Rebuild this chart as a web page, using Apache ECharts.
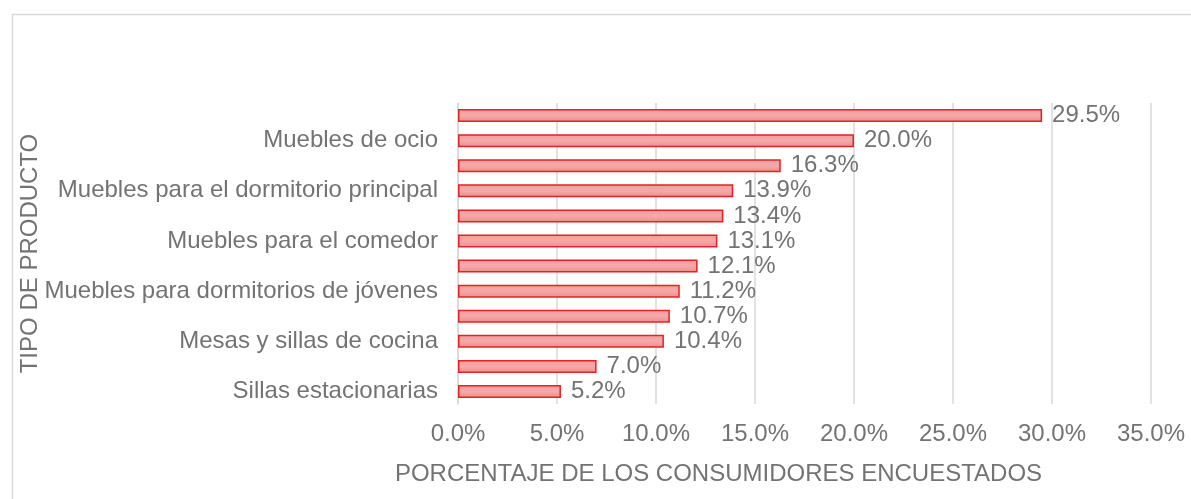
<!DOCTYPE html>
<html>
<head>
<meta charset="utf-8">
<script src="https://cdn.jsdelivr.net/npm/echarts@6/dist/echarts.min.js"></script>
<style>
html,body{margin:0;padding:0;background:#fff;}
#chart{width:1191px;height:499px;}
</style>
</head>
<body>
<div id="chart"></div>
<script>
// Categories listed bottom to top (labels hidden in the original appear as empty strings)
const categories = [
  "Sillas estacionarias", "",
  "Mesas y sillas de cocina", "",
  "Muebles para dormitorios de jóvenes", "",
  "Muebles para el comedor", "",
  "Muebles para el dormitorio principal", "",
  "Muebles de ocio", ""
];
const values = [5.2, 7.0, 10.4, 10.7, 11.2, 12.1, 13.1, 13.4, 13.9, 16.3, 20.0, 29.5];
const xAxisTitle = "PORCENTAJE DE LOS CONSUMIDORES ENCUESTADOS";
const yAxisTitle = "TIPO DE PRODUCTO";

const chart = echarts.init(document.getElementById('chart'));
const font = '"Liberation Sans", Arial, sans-serif';
const txt = '#737373';
chart.setOption({
  animation: false,
  backgroundColor: '#ffffff',
  graphic: [{
    type: 'rect', left: 10, top: 12,
    shape: { width: 1300, height: 600 },
    style: { fill: 'none', stroke: '#d9d9d9', lineWidth: 1.5 },
    silent: true, z: -1
  }],
  grid: { left: 458, right: 40, top: 103, bottom: 95, containLabel: false },
  xAxis: {
    type: 'value', min: 0, max: 35, interval: 5,
    axisLine: { show: false }, axisTick: { show: false },
    splitLine: { show: true, lineStyle: { color: '#d9d9d9', width: 1.5 } },
    axisLabel: { formatter: v => v.toFixed(1) + '%', color: txt, fontSize: 24, fontFamily: font, margin: 18 },
    name: xAxisTitle, nameLocation: 'middle', nameGap: 58, nameMoveOverlap: false,
    nameTextStyle: { color: txt, fontSize: 24, fontFamily: font, padding: [0, 172, 0, 0] }
  },
  yAxis: {
    type: 'category', data: categories,
    axisLine: { show: true, lineStyle: { color: '#d9d9d9', width: 1.5 } },
    axisTick: { show: false },
    axisLabel: { interval: 0, color: txt, fontSize: 24, fontFamily: font, margin: 20 },
    name: yAxisTitle, nameLocation: 'middle', nameGap: 416, nameRotate: 90, nameMoveOverlap: false,
    nameTextStyle: { color: txt, fontSize: 24, fontFamily: font }
  },
  series: [{
    type: 'bar', data: values, barWidth: 13,
    itemStyle: {
      color: new echarts.graphic.LinearGradient(0, 0, 0, 1, [
        { offset: 0, color: '#f39c9c' },
        { offset: 0.5, color: '#f5a9a9' },
        { offset: 1, color: '#ec8c8c' }
      ]),
      borderColor: '#e02424', borderWidth: 1.5
    },
    label: {
      show: true, position: 'right', distance: 10,
      formatter: p => p.value.toFixed(1) + '%',
      color: txt, fontSize: 24, fontFamily: font
    }
  }]
});
</script>
</body>
</html>
